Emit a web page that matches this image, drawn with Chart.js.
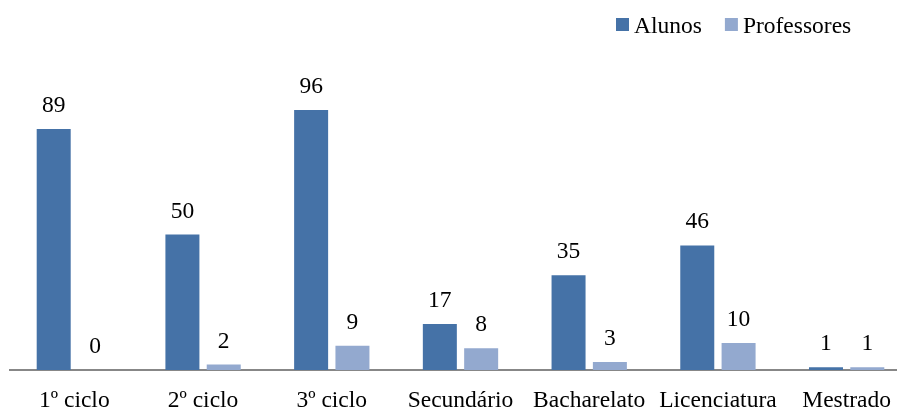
<!DOCTYPE html>
<html>
<head>
<meta charset="utf-8">
<script src="https://cdn.jsdelivr.net/npm/chart.js@4/dist/chart.umd.min.js"></script>
<style>
  html, body { margin: 0; padding: 0; background: #fff; overflow: hidden; }
  #wrap { position: relative; width: 897px; height: 407px; overflow: hidden; }
  #c { display: block; }
</style>
</head>
<body>
<div id="wrap"><canvas id="c" width="920" height="407"></canvas></div>
<script>
// Education level of students and teachers
const categories = ['1º ciclo', '2º ciclo', '3º ciclo', 'Secundário', 'Bacharelato', 'Licenciatura', 'Mestrado'];
const alunos = [89, 50, 96, 17, 35, 46, 1];
const professores = [0, 2, 9, 8, 3, 10, 1];
const seriesNames = ['Alunos', 'Professores'];

const FONT = '"Liberation Serif", "Times New Roman", Times, serif';
const FONT_SIZE = 23.5;
const COLORS = ['#4572A7', '#93A9CF'];

// Value printed above each bar
const valueLabels = {
  id: 'valueLabels',
  afterDatasetsDraw(chart) {
    const ctx = chart.ctx;
    ctx.save();
    ctx.font = FONT_SIZE + 'px ' + FONT;
    ctx.fillStyle = '#000';
    ctx.textAlign = 'center';
    ctx.textBaseline = 'alphabetic';
    chart.data.datasets.forEach((ds, i) => {
      const meta = chart.getDatasetMeta(i);
      meta.data.forEach((bar, j) => {
        ctx.fillText(String(ds.data[j]), bar.x, bar.y - 17);
      });
    });
    ctx.restore();
  }
};

// Legend in the top-right corner
const cornerLegend = {
  id: 'cornerLegend',
  afterDraw(chart) {
    const ctx = chart.ctx;
    ctx.save();
    ctx.font = FONT_SIZE + 'px ' + FONT;
    ctx.textAlign = 'left';
    ctx.textBaseline = 'alphabetic';
    let x = 616;
    chart.data.datasets.forEach((ds) => {
      ctx.fillStyle = ds.backgroundColor;
      ctx.fillRect(x, 18, 13, 13);
      ctx.fillStyle = '#000';
      ctx.fillText(ds.label, x + 18, 33);
      x += 18 + ctx.measureText(ds.label).width + 23;
    });
    ctx.restore();
  }
};

new Chart(document.getElementById('c'), {
  type: 'bar',
  data: {
    labels: categories,
    datasets: [
      { label: seriesNames[0], data: alunos, backgroundColor: COLORS[0] },
      { label: seriesNames[1], data: professores, backgroundColor: COLORS[1] }
    ]
  },
  options: {
    responsive: false,
    animation: false,
    devicePixelRatio: 1,
    layout: { padding: { left: 10, right: 9, top: 99.2, bottom: 0 } },
    datasets: { bar: { categoryPercentage: 0.642, barPercentage: 0.823 } },
    plugins: { legend: { display: false }, tooltip: { enabled: false } },
    scales: {
      x: {
        grid: { display: false, drawTicks: false },
        border: { display: true, color: '#878787', width: 2 },
        ticks: {
          color: '#000',
          font: { family: FONT, size: FONT_SIZE },
          padding: 17,
          maxRotation: 0,
          autoSkip: false
        },
        afterFit(scale) { scale.height = 37; }
      },
      y: {
        display: false,
        min: 0,
        max: 100
      }
    }
  },
  plugins: [valueLabels, cornerLegend]
});
</script>
</body>
</html>
